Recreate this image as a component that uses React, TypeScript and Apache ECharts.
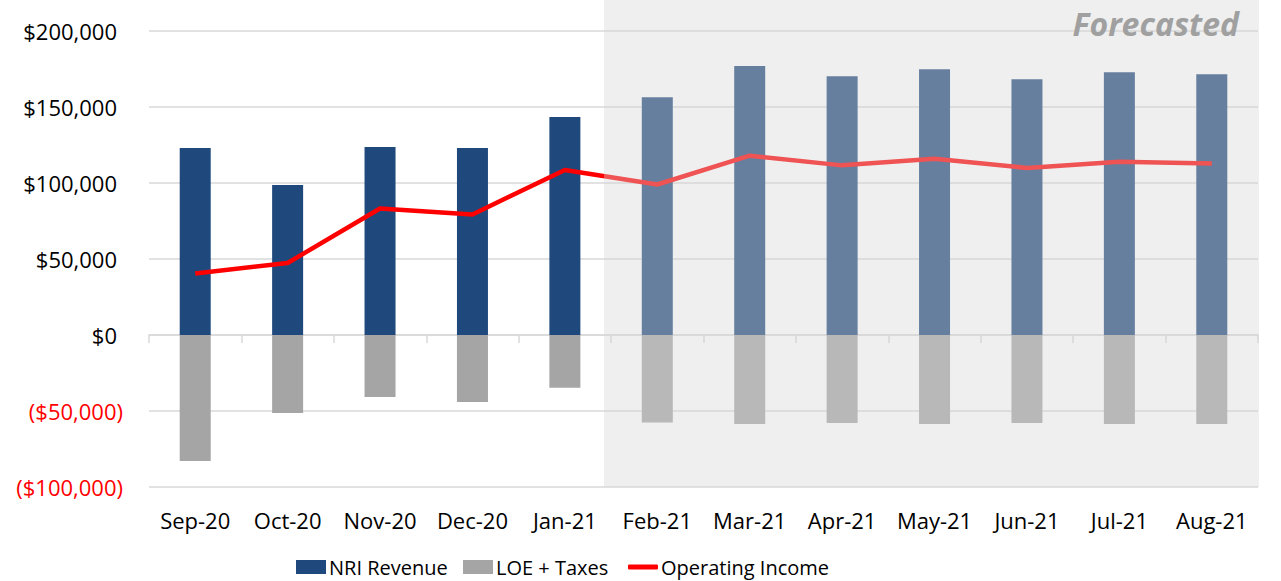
import React, { useEffect, useRef } from 'react';
import * as echarts from 'echarts';

const categories = ['Sep-20', 'Oct-20', 'Nov-20', 'Dec-20', 'Jan-21', 'Feb-21', 'Mar-21', 'Apr-21', 'May-21', 'Jun-21', 'Jul-21', 'Aug-21'];
const nriRevenue = [123000, 98700, 123700, 123000, 143400, 156400, 177000, 170200, 174800, 168200, 172800, 171500];
const loeTaxes = [-82900, -51300, -40800, -44100, -34700, -57500, -58600, -57900, -58600, -57900, -58600, -58600];
const operatingIncome = [40500, 47400, 83200, 79300, 108600, 99000, 118000, 111600, 115900, 109900, 114000, 112800];
const seriesNames = ['NRI Revenue', 'LOE + Taxes', 'Operating Income'];
const forecastLabel = 'Forecasted';

const FONT = "'Open Sans', 'Noto Sans', sans-serif";
const LEGEND_FONT = "'Open Sans', 'Noto Sans', sans-serif";

function fmt(v: number) {
  return Math.abs(v).toLocaleString('en-US');
}

export default function App() {
  const ref = useRef<HTMLDivElement>(null);
  useEffect(() => {
    const chart = echarts.init(ref.current!, null, { renderer: 'svg' });
    const legendBase = {
      top: 557,
      padding: 0,
      itemWidth: 30,
      itemHeight: 14,
      itemGap: 0,
      textStyle: { fontFamily: LEGEND_FONT, fontSize: 20, color: '#000', padding: [0, 0, 0, -2] },
    };
    chart.setOption({
      animation: false,
      backgroundColor: '#fff',
      grid: { left: 149, right: 23, top: 31, bottom: 94, containLabel: false },
      legend: [
        { ...legendBase, left: 296, data: [{ name: seriesNames[0], icon: 'rect' }] },
        { ...legendBase, left: 463, data: [{ name: seriesNames[1], icon: 'rect' }] },
        { ...legendBase, left: 628, itemHeight: 5, data: [{ name: seriesNames[2], icon: 'roundRect' }] },
      ],
      xAxis: [
        {
          type: 'category',
          data: categories,
          position: 'bottom',
          axisLine: { show: false, onZero: false },
          axisTick: { show: false },
          axisLabel: { fontFamily: FONT, fontSize: 22, color: '#000', margin: 22, interval: 0 },
        },
        {
          type: 'category',
          data: categories,
          position: 'bottom',
          axisLine: { show: true, onZero: true, lineStyle: { color: '#D9D9D9', width: 1.5 } },
          axisTick: { show: true, length: 8, interval: 0, lineStyle: { color: '#D9D9D9', width: 1.5 } },
          axisLabel: { show: false },
        },
      ],
      yAxis: {
        type: 'value',
        min: -100000,
        max: 200000,
        interval: 50000,
        axisLine: { show: false },
        axisTick: { show: false },
        splitLine: { lineStyle: { color: '#D9D9D9', width: 1.5 } },
        axisLabel: {
          margin: 26,
          formatter: (v: number) => (v < 0 ? `{neg|($${fmt(v)})}` : `{pos|$${fmt(v)}}`),
          rich: {
            pos: { fontFamily: FONT, fontSize: 22, color: '#000', padding: [0, 6, 0, 0] },
            neg: { fontFamily: FONT, fontSize: 22, color: '#FF0000' },
          },
        },
      },
      series: [
        {
          name: seriesNames[0],
          type: 'bar',
          stack: 'total',
          barWidth: 31,
          data: nriRevenue,
          itemStyle: { color: '#1F497D' },
        },
        {
          name: seriesNames[1],
          type: 'bar',
          stack: 'total',
          barWidth: 31,
          data: loeTaxes,
          itemStyle: { color: '#A5A5A5' },
        },
        {
          name: seriesNames[2],
          type: 'line',
          data: operatingIncome,
          symbol: 'none',
          lineStyle: { color: '#FF0000', width: 4.5 },
          itemStyle: { color: '#FF0000' },
          z: 5,
        },
      ],
      graphic: [
        {
          type: 'rect',
          shape: { x: 604, y: 0, width: 655, height: 487 },
          style: { fill: 'rgba(214,214,214,0.39)' },
          z: 100,
          silent: true,
        },
        {
          type: 'text',
          x: 1239,
          y: 23,
          z: 101,
          style: {
            text: forecastLabel,
            fill: '#A0A0A0',
            font: `italic bold 32px ${FONT}`,
            align: 'right',
            verticalAlign: 'middle',
          },
        },
      ],
    });
    return () => chart.dispose();
  }, []);
  return (
    <div
      ref={ref}
      style={{ position: 'fixed', left: 0, top: 0, width: 1281, height: 581, background: '#fff' }}
    />
  );
}
